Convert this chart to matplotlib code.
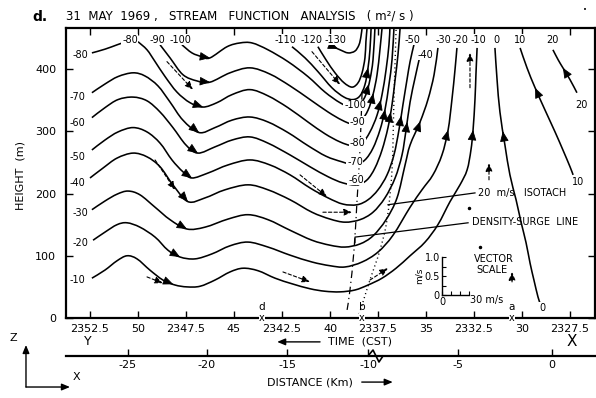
import matplotlib
matplotlib.use('Agg')
import matplotlib.pyplot as plt
from matplotlib.path import Path
from matplotlib.patches import PathPatch, FancyArrowPatch
import numpy as np

plt.rcParams['font.family'] = ['DejaVu Sans']

# time axis: minutes after 2300 CST (time runs right to left)
time_ticks = [52.5, 50, 47.5, 45, 42.5, 40, 37.5, 35, 32.5, 30, 27.5]
time_labels = ['2352.5', '50', '2347.5', '45', '2342.5', '40', '2337.5',
               '35', '2332.5', '30', '2327.5']
height_ticks = [0, 100, 200, 300, 400]
dist_tick_time = [50.52, 46.41, 42.24, 38.02, 33.33, 28.44]
dist_labels = ['-25', '-20', '-15', '-10', '-5', '0']
axis_break_t = [38.02, 37.76, 37.45, 37.24]
axis_break_y = [0, 0.3, -0.3, 0]

# streamlines (time, height m), in the direction of flow
psi_m10_t = [52.40, 51.72, 51.09, 50.57, 50.05, 49.38, 48.70, 48.07, 47.45, 46.77, 45.99, 45.21,
             44.53, 43.75, 42.86, 41.98, 41.04, 40.26, 39.48, 38.70, 38.02, 37.29, 36.56, 35.83,
             35.05, 34.38, 33.75, 33.23, 32.86, 32.66, 32.55, 32.45, 32.40, 32.34]
psi_m10_h = [64, 77, 92, 100, 95, 77, 61, 53, 50, 51, 61, 74, 80, 76, 64, 55, 47, 43, 42, 45,
             53, 64, 80, 100, 122, 150, 187, 214, 238, 270, 302, 351, 391, 434]
psi_m20_t = [52.34, 51.72, 51.09, 50.57, 49.90, 49.11, 48.44, 47.81, 47.03, 46.15, 45.21, 44.27,
             43.23, 42.08, 40.94, 40.00, 39.22, 38.33, 37.50, 36.72, 35.83, 35.21, 34.64, 34.17,
             33.85, 33.65, 33.49, 33.39]
psi_m20_h = [125, 138, 150, 153, 146, 130, 109, 98, 95, 103, 116, 122, 114, 101, 90, 84, 82, 90,
             106, 133, 178, 206, 230, 262, 302, 351, 399, 434]
psi_m30_t = [52.40, 51.72, 51.09, 50.52, 49.90, 49.11, 48.33, 47.45, 46.51, 45.31, 44.27, 43.23,
             42.08, 40.94, 40.00, 39.22, 38.44, 37.76, 37.08, 36.51, 36.09, 35.83, 35.31, 34.90,
             34.58, 34.38]
psi_m30_h = [174, 188, 199, 204, 198, 178, 158, 143, 146, 159, 166, 158, 141, 125, 117, 114, 119,
             132, 158, 193, 246, 278, 315, 351, 391, 434]
psi_m40_t = [52.50, 51.82, 51.09, 50.26, 49.53, 48.85, 48.18, 47.40, 46.51, 45.47, 44.27, 43.23,
             42.08, 40.94, 40.00, 39.22, 38.44, 37.76, 37.14, 36.61, 36.25, 36.04, 35.83, 35.57,
             35.36]
psi_m40_h = [225, 241, 257, 265, 259, 243, 214, 187, 193, 206, 214, 206, 190, 170, 159, 154, 158,
             170, 193, 225, 262, 302, 347, 386, 415]
psi_m50_t = [52.40, 51.72, 51.04, 50.26, 49.53, 48.85, 48.23, 47.66, 47.19, 46.35, 45.31, 44.17,
             43.13, 42.08, 41.04, 40.10, 39.32, 38.59, 38.02, 37.50, 37.03, 36.67, 36.41, 36.20,
             35.99, 35.83, 35.63]
psi_m50_h = [270, 286, 299, 306, 299, 281, 254, 235, 225, 233, 246, 254, 246, 230, 209, 193, 183,
             182, 190, 206, 230, 262, 302, 343, 383, 412, 439]
psi_m60_t = [52.40, 51.72, 51.04, 50.26, 49.53, 48.85, 48.18, 47.50, 46.88, 45.99, 45.10, 44.17,
             43.23, 42.08, 41.04, 40.10, 39.32, 38.59, 38.07, 37.66, 37.29, 36.98, 36.77, 36.61,
             36.46, 36.35]
psi_m60_h = [322, 338, 351, 355, 349, 331, 306, 278, 265, 275, 286, 291, 281, 262, 243, 227, 217,
             214, 222, 241, 270, 306, 343, 383, 423, 466]
psi_m70_t = [52.40, 51.72, 51.04, 50.26, 49.64, 48.96, 48.33, 47.66, 46.82, 45.99, 45.10, 44.17,
             43.23, 42.19, 41.15, 40.21, 39.38, 38.70, 38.18, 37.76, 37.40, 37.14, 36.93, 36.77,
             36.67]
psi_m70_h = [362, 376, 388, 394, 389, 373, 347, 318, 298, 306, 318, 323, 315, 298, 277, 260, 251,
             246, 254, 273, 302, 334, 375, 415, 466]
psi_m80a_t = [52.40, 51.72, 51.09, 50.63]
psi_m80a_h = [426, 432, 439, 444]
psi_m80_t = [50.00, 49.53, 49.11, 48.59, 47.97, 47.29, 46.61, 45.89, 45.10, 44.17, 43.23, 42.19,
             41.15, 40.26, 39.48, 38.85, 38.33, 37.92, 37.55, 37.29, 37.08, 36.93, 36.88]
psi_m80_h = [444, 431, 412, 388, 363, 346, 339, 346, 359, 367, 357, 338, 315, 296, 283, 277, 281,
             299, 326, 359, 399, 439, 466]
psi_m90_t = [48.85, 48.33, 47.66, 46.93, 46.25, 45.21, 44.17, 43.13, 42.08, 41.04, 40.10, 39.38,
             38.85, 38.39, 38.02, 37.76, 37.55, 37.40, 37.29]
psi_m90_h = [439, 418, 391, 381, 379, 394, 402, 392, 373, 351, 331, 318, 312, 317, 334, 359, 391,
             431, 466]
psi_m100_t = [47.71, 47.19, 46.67, 46.25, 45.36, 44.69, 44.06, 43.23, 42.19, 41.15, 40.26, 39.48,
              38.91, 38.44, 38.13, 37.92, 37.76, 37.66]
psi_m100_h = [439, 426, 420, 418, 436, 442, 442, 431, 412, 388, 363, 346, 339, 344, 359, 383, 415,
              466]
psi_m110_t = [41.98, 41.30, 40.63, 39.90, 39.27, 38.80, 38.44, 38.18, 38.02, 37.92, 37.86]
psi_m110_h = [436, 418, 396, 370, 355, 351, 357, 375, 402, 431, 466]
psi_m120_t = [40.63, 40.21, 39.74, 39.27, 38.85, 38.54, 38.33, 38.18, 38.13, 38.07]
psi_m120_h = [436, 415, 394, 378, 371, 378, 394, 418, 444, 466]
psi_m130_t = [39.84, 39.48, 39.06, 38.70, 38.49, 38.39, 38.33]
psi_m130_h = [436, 431, 426, 429, 439, 452, 466]
psi_0_t = [29.06, 29.17, 29.38, 29.58, 29.79, 30.05, 30.31, 30.63, 30.89, 31.15, 31.30, 31.41]
psi_0_h = [24, 34, 61, 88, 121, 154, 190, 230, 278, 331, 383, 434]
psi_10_t = [27.34, 27.50, 27.87, 28.28, 28.80, 29.32, 29.74, 30.10]
psi_10_h = [230, 243, 270, 299, 334, 370, 402, 434]
psi_20_t = [27.14, 27.50, 27.87, 28.12, 28.39]
psi_20_h = [362, 383, 402, 415, 431]

# contour labels: text, time, height
label_text = ['-80', '-70', '-60', '-50', '-40', '-30', '-20', '-10',
              '-80', '-90', '-100', '-110', '-120', '-130', '-50', '-40', '-30', '-20', '-10',
              '0', '10', '20',
              '-100', '-90', '-80', '-70', '-60', '20', '10', '0']
label_t = [53.02, 53.13, 53.13, 53.13, 53.18, 53.02, 53.02, 53.13,
           50.42, 49.01, 47.81, 42.34, 40.94, 39.74, 35.73, 35.05, 34.11, 33.23, 32.29,
           31.35, 30.10, 28.44,
           38.70, 38.59, 38.59, 38.70, 38.65, 26.88, 27.08, 28.96]
label_h = [423, 355, 314, 259, 217, 169, 121, 61,
           447, 447, 447, 447, 447, 447, 447, 423, 447, 447, 447,
           447, 447, 447,
           342, 315, 281, 251, 222, 342, 219, 16]

# flow arrowheads on the streamlines: contour value, time, height
arrow_val = [-100, -90, -80, -70, -60, -50, -40, -30, -20, -10, -130,
             -110, -100, -90, -80, -70, -60, -50, -40, -30, -20, -10, 0, 10, 20]
arrow_t = [46.25, 46.25, 46.61, 46.82, 46.88, 47.19, 47.40, 47.45, 47.81, 48.18, 39.58,
           38.02, 37.90, 37.60, 37.30, 37.10, 36.70, 36.30, 36.00, 35.20, 33.85, 32.55, 31.00,
           29.30, 27.87]
arrow_h = [418, 379, 339, 298, 265, 225, 187, 143, 98, 53, 432,
           402, 375, 360, 350, 335, 330, 325, 315, 315, 302, 302, 300, 370, 402]

# observed wind vectors (dashed arrows): tail / tip
vec_t0 = [48.49, 49.11, 49.53, 40.94, 41.56, 40.37, 42.45, 37.92, 32.71, 31.72, 30.52]
vec_h0 = [412, 254, 66, 428, 230, 170, 74, 61, 370, 222, 58]
vec_t1 = [47.14, 48.07, 48.70, 39.48, 40.16, 38.85, 41.04, 36.98, 32.71, 31.72, 30.52]
vec_h1 = [367, 206, 56, 375, 195, 170, 58, 80, 426, 249, 74]

# density-surge line (dash-dot) and 20 m/s isotach (dotted)
surge_t = [38.33, 38.44, 38.59, 38.75, 38.96, 39.11]
surge_h = [363, 270, 190, 109, 45, 13]
isotach_t = [36.56, 36.67, 36.77, 37.03, 37.40, 37.92, 38.33, 38.49]
isotach_h = [463, 351, 238, 158, 109, 61, 21, 5]

# station marks on the time axis
mark_time = [43.54, 38.34, 30.52]
mark_name = ['d', 'b', 'a']

# vector scale
scale_u = [0, 10, 20, 30]
scale_w = [0, 0.25, 0.5, 0.75, 1.0]

streams = {
    -10: (psi_m10_t, psi_m10_h), -20: (psi_m20_t, psi_m20_h), -30: (psi_m30_t, psi_m30_h),
    -40: (psi_m40_t, psi_m40_h), -50: (psi_m50_t, psi_m50_h), -60: (psi_m60_t, psi_m60_h),
    -70: (psi_m70_t, psi_m70_h), -80: (psi_m80_t, psi_m80_h), -90: (psi_m90_t, psi_m90_h),
    -100: (psi_m100_t, psi_m100_h), -110: (psi_m110_t, psi_m110_h),
    -120: (psi_m120_t, psi_m120_h), -130: (psi_m130_t, psi_m130_h),
    0: (psi_0_t, psi_0_h), 10: (psi_10_t, psi_10_h), 20: (psi_20_t, psi_20_h),
}


def smooth_path(t, h):
    # hand-drawn look: cubic bezier through the read points (catmull-rom handles)
    p = np.column_stack([t, h]).astype(float)
    q = np.vstack([p[0], p, p[-1]])
    verts = [p[0]]
    codes = [Path.MOVETO]
    for i in range(1, len(q) - 2):
        c1 = q[i] + (q[i + 1] - q[i - 1]) / 6
        c2 = q[i + 1] - (q[i + 2] - q[i]) / 6
        verts += [c1, c2, q[i + 1]]
        codes += [Path.CURVE4] * 3
    return Path(verts, codes)


fig = plt.figure(figsize=(5.96, 3.98), dpi=100)
ax = fig.add_axes([0.1107, 0.2010, 0.8876, 0.7286])
ax.set_xlim(53.75, 26.2)
ax.set_ylim(0, 466)
for s in ax.spines.values():
    s.set_linewidth(1.6)
ax.set_xticks(time_ticks, labels=time_labels)
ax.set_yticks(height_ticks)
ax.tick_params(direction='in', top=True, right=True, length=5, width=1,
               labelsize=8, pad=4)
ax.tick_params(axis='y', pad=7)
fig.text(0.034, 0.558, 'HEIGHT  (m)', rotation=90, fontsize=8, ha='center', va='center')

for t, h in list(streams.values()) + [(psi_m80a_t, psi_m80a_h)]:
    ax.add_patch(PathPatch(smooth_path(t, h), fill=False, ec='k', lw=1.15, zorder=2))
ax.add_patch(PathPatch(smooth_path(surge_t, surge_h), fill=False, ec='k', lw=0.9,
                       ls=(0, (6, 3, 1, 3)), zorder=2))
ax.add_patch(PathPatch(smooth_path(isotach_t, isotach_h), fill=False, ec='k', lw=1.0,
                       ls=(0, (0.8, 2.2)), zorder=2))

for s, t, h in zip(label_text, label_t, label_h):
    ax.text(t, h, s, fontsize=7, ha='center', va='center', zorder=4,
            bbox=dict(fc='white', ec='none', pad=0.4))

inv = ax.transData.inverted()
for v, t, h in zip(arrow_val, arrow_t, arrow_h):
    ct, ch = streams[v]
    pts = ax.transData.transform(np.column_stack([ct, ch]))
    p = ax.transData.transform((t, h))
    best = None
    for i in range(len(pts) - 1):
        a, b = pts[i], pts[i + 1]
        d = b - a
        u = np.clip(np.dot(p - a, d) / np.dot(d, d), 0, 1)
        q = a + u * d
        dist = np.hypot(*(p - q))
        if best is None or dist < best[0]:
            best = (dist, q, d / np.hypot(*d))
    _, q, dv = best
    ax.annotate('', xy=inv.transform(q), xytext=inv.transform(q - dv * 6),
                arrowprops=dict(arrowstyle='-|>,head_length=0.7,head_width=0.3',
                                fc='k', ec='k', lw=0.6, shrinkA=0, shrinkB=0,
                                mutation_scale=9), zorder=3)

for t0, h0, t1, h1 in zip(vec_t0, vec_h0, vec_t1, vec_h1):
    ax.annotate('', xy=(t1, h1), xytext=(t0, h0),
                arrowprops=dict(arrowstyle='-|>,head_length=0.6,head_width=0.25',
                                fc='k', ec='k', lw=0.8, ls=(0, (3, 2)),
                                shrinkA=0, shrinkB=0, mutation_scale=8), zorder=3)

# pointer lines
ax.plot([32.45, 36.98], [201, 182], color='k', lw=0.9, zorder=3)
ax.plot([32.81, 38.70, 38.70], [153, 130, 121], color='k', lw=0.9, zorder=3)
ax.text(32.29, 201, '20  m/s   ISOTACH', fontsize=7, ha='left', va='center')
ax.text(32.60, 154, 'DENSITY-SURGE  LINE', fontsize=7, ha='left', va='center')

for t, n in zip(mark_time, mark_name):
    ax.text(t, 0, 'x', fontsize=7, ha='center', va='center', zorder=5,
            bbox=dict(fc='white', ec='none', pad=0.2), clip_on=False)
    ax.text(t, 17, n, fontsize=7.5, ha='center', va='center', zorder=5)

ax.plot([32.76, 32.19], [177, 114], ls='none', marker='o', ms=1.5, color='k')

# vector scale inset
axv = fig.add_axes([442 / 596, 1 - 295 / 398, 27 / 596, 38 / 398])
axv.patch.set_alpha(0)
axv.set_xlim(0, 30)
axv.set_ylim(0, 1)
for s in ['top', 'right']:
    axv.spines[s].set_visible(False)
for s in ['left', 'bottom']:
    axv.spines[s].set_linewidth(1.0)
axv.set_xticks(scale_u, labels=['0', '', '', ''])
axv.set_yticks(scale_w, labels=['0', '', '0.5', '', '1.0'])
axv.tick_params(direction='in', length=3, labelsize=7, pad=1.5)
axv.set_ylabel('m/s', fontsize=6.5, labelpad=1)
axv.text(1.05, -0.12, '30 m/s', transform=axv.transAxes, fontsize=7, ha='left', va='center')
axv.text(1.2, 0.95, 'VECTOR', transform=axv.transAxes, fontsize=7, ha='left', va='center')
axv.text(1.28, 0.66, 'SCALE', transform=axv.transAxes, fontsize=7, ha='left', va='center')

# distance axis
axd = fig.add_axes([0.1107, 1 - 356 / 398, 0.8876, 20 / 398])
axd.patch.set_alpha(0)
axd.set_xlim(53.75, 26.2)
axd.set_ylim(0, 1)
for s in ['top', 'left', 'right']:
    axd.spines[s].set_visible(False)
axd.spines['bottom'].set_linewidth(1.6)
axd.set_yticks([])
axd.set_xticks(dist_tick_time, labels=dist_labels)
axd.tick_params(axis='x', direction='in', length=5, width=1, labelsize=8, pad=3)
axd.plot(axis_break_t, axis_break_y, color='k', lw=1.2, clip_on=False)

# titles and annotations
fig.text(0.055, 0.957, 'd.', fontsize=10, fontweight='bold', ha='left', va='center')
fig.text(0.111, 0.959, '31  MAY  1969 ,   STREAM   FUNCTION   ANALYSIS   ( m²/ s )',
         fontsize=8.5, ha='left', va='center')
fig.text(0.982, 0.975, '•', fontsize=5, ha='center', va='center')
fig.text(0.148, 0.141, 'Y', fontsize=9, ha='center', va='center')
fig.text(0.960, 0.141, 'X', fontsize=11, ha='center', va='center')
fig.text(0.550, 0.141, 'TIME  (CST)', fontsize=8, ha='left', va='center')
fig.text(0.448, 0.040, 'DISTANCE (Km)', fontsize=8, ha='left', va='center')
arr = dict(arrowstyle='-|>,head_length=0.6,head_width=0.25', fc='k', ec='k', lw=1.0,
           shrinkA=0, shrinkB=0, mutation_scale=8)
for x0, y0, x1, y1 in [(0.537, 0.141, 0.465, 0.141), (0.607, 0.040, 0.659, 0.040),
                       (0.0436, 0.0276, 0.0436, 0.1332), (0.0436, 0.0276, 0.1174, 0.0276)]:
    fig.add_artist(FancyArrowPatch((x0, y0), (x1, y1), transform=fig.transFigure, **arr))
fig.text(0.0218, 0.1508, 'Z', fontsize=8, ha='center', va='center')
fig.text(0.1275, 0.0528, 'X', fontsize=8, ha='center', va='center')

fig.savefig('out.png', dpi=100)
